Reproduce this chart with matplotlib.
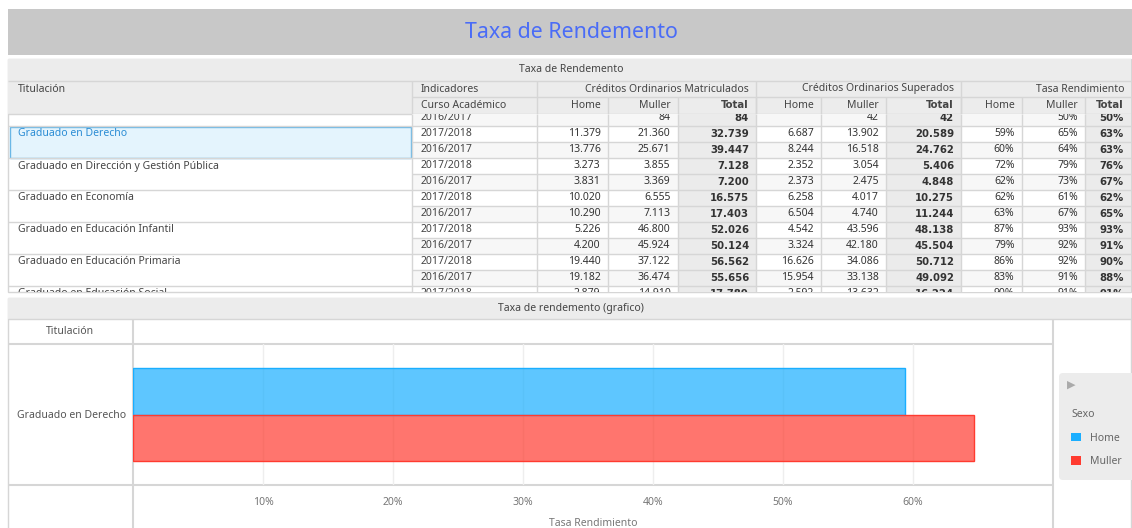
import matplotlib.pyplot as plt
from matplotlib.patches import Rectangle, FancyBboxPatch, Patch

plt.rcParams['font.family'] = ['Noto Sans', 'DejaVu Sans']

W, H = 1132, 528

# table data (first and last rows are cut by the scroll area)
titulacion = ['', 'Graduado en Derecho', 'Graduado en Dirección y Gestión Pública',
              'Graduado en Economía', 'Graduado en Educación Infantil',
              'Graduado en Educación Primaria', 'Graduado en Educación Social']
curso = ['2016/2017'] + ['2017/2018', '2016/2017'] * 5 + ['2017/2018']
mat_home = [None, 11379, 13776, 3273, 3831, 10020, 10290, 5226, 4200, 19440, 19182, 2879]
mat_muller = [84, 21360, 25671, 3855, 3369, 6555, 7113, 46800, 45924, 37122, 36474, 14910]
mat_total = [84, 32739, 39447, 7128, 7200, 16575, 17403, 52026, 50124, 56562, 55656, 17789]
sup_home = [None, 6687, 8244, 2352, 2373, 6258, 6504, 4542, 3324, 16626, 15954, 2592]
sup_muller = [42, 13902, 16518, 3054, 2475, 4017, 4740, 43596, 42180, 34086, 33138, 13632]
sup_total = [42, 20589, 24762, 5406, 4848, 10275, 11244, 48138, 45504, 50712, 49092, 16224]
tasa_home = [None, 59, 60, 72, 62, 62, 63, 87, 79, 86, 83, 90]
tasa_muller = [50, 65, 64, 79, 73, 61, 67, 93, 92, 92, 91, 91]
tasa_total = [50, 63, 63, 76, 67, 62, 65, 93, 91, 90, 88, 91]

groups = ['Créditos Ordinarios Matriculados', 'Créditos Ordinarios Superados', 'Tasa Rendimiento']
subcols = ['Home', 'Muller', 'Total']

# chart data
chart_titulacion = ['Graduado en Derecho']
sexo = ['Home', 'Muller']
tasa_sexo = [0.594, 0.647]
sexo_colors = ['#1aaeff', '#ff3b30']

LINE = '#d6d6d6'
HEAD = '#ececec'
TXT = '#444444'
FS = 7.5
BOLD = dict(family=['DejaVu Sans'], fontweight='bold', fontsize=7.3)

fig = plt.figure(figsize=(W / 100, H / 100), dpi=100)

# background axes in pixel units
bg = fig.add_axes([0, 0, 1, 1])
bg.set_xlim(0, W)
bg.set_ylim(H, 0)
bg.axis('off')

# banner
bg.add_patch(Rectangle((8, 9), W - 8, 46, facecolor='#c8c8c8', edgecolor='none'))
bg.text(571, 32, 'Taxa de Rendemento', fontsize=15.4, color='#4a6cf7', ha='center', va='center')

# table panel
col_x = [8, 412, 537, 607.5, 677.5, 756, 821, 886, 961, 1021.5, 1085, 1131]
bg.add_patch(Rectangle((8, 58.5), 1123, 233, facecolor='white', edgecolor=LINE, lw=1))
bg.add_patch(Rectangle((8, 58.5), 1123, 55, facecolor=HEAD, edgecolor='none'))
bg.text(571, 70, 'Taxa de Rendemento', fontsize=FS, color=TXT, ha='center', va='center')
bg.hlines(81, 8, 1131, color=LINE, lw=1)
bg.hlines(97, 412, 1131, color=LINE, lw=1)
bg.hlines(113.5, 8, 1131, color=LINE, lw=1)
for x in [412, 537, 756, 961]:
    bg.vlines(x, 81, 113.5, color=LINE, lw=1)
for x in col_x[3:-1]:
    bg.vlines(x, 97, 113.5, color=LINE, lw=1)
bg.text(18, 89, 'Titulación', fontsize=FS, color=TXT, va='center')
bg.text(421, 89, 'Indicadores', fontsize=FS, color=TXT, va='center')
bg.text(421, 105, 'Curso Académico', fontsize=FS, color=TXT, va='center')
for g, name in enumerate(groups):
    bg.text(col_x[2 + 3 * g + 3] - 7, 89, name, fontsize=FS, color=TXT, ha='right', va='center')
    for k, sub in enumerate(subcols):
        kw = BOLD if sub == 'Total' else dict(fontsize=FS)
        bg.text(col_x[2 + 3 * g + k + 1] - 7, 105, sub, color=TXT, ha='right', va='center', **kw)

# table body, clipped to the scroll area
top, bot = 113.5, 291.5
body = fig.add_axes([0, (H - bot) / H, 1, (bot - top) / H])
body.set_xlim(0, W)
body.set_ylim(bot, top)
body.axis('off')
body.patch.set_alpha(0)

values = [mat_home, mat_muller, mat_total, sup_home, sup_muller, sup_total,
          tasa_home, tasa_muller, tasa_total]


def fmt(v, pct):
    if v is None:
        return ''
    if pct:
        return f'{v}%'
    return f'{v:,}'.replace(',', '.')


row_h = 16
for i, c in enumerate(curso):
    y0 = 110 + row_h * i
    shade = '#f7f7f7' if c == '2016/2017' else 'white'
    body.add_patch(Rectangle((412, y0), 125, row_h, facecolor=shade, edgecolor='none', clip_on=True))
    body.text(421, y0 + 8, c, fontsize=FS, color=TXT, va='center', clip_on=True)
    for j, col in enumerate(values):
        xl, xr = col_x[j + 2], col_x[j + 3]
        total = j % 3 == 2
        face = '#ebebeb' if total else shade
        body.add_patch(Rectangle((xl, y0), xr - xl, row_h, facecolor=face, edgecolor='none', clip_on=True))
        kw = BOLD if total else dict(fontsize=FS)
        body.text(xr - 7, y0 + 8, fmt(col[i], j >= 6), color='#333333', ha='right', va='center',
                  clip_on=True, **kw)
    body.hlines(y0 + row_h, 412, 1131, color=LINE, lw=1)

for x in col_x[1:-1]:
    body.vlines(x, top, bot, color=LINE, lw=1)

# titulacion cells span two rows
for g, name in enumerate(titulacion):
    y0 = 94 + 32 * g
    body.hlines(y0 + 32, 8, 412, color=LINE, lw=1)
    if g == 1:
        body.add_patch(Rectangle((10, y0 + 0.5), 401, 31, facecolor='#e4f4fd', edgecolor='#6ab7e6', lw=1))
        body.text(18, y0 + 8, name, fontsize=FS, color='#2a8cd4', va='center', clip_on=True)
    else:
        body.text(18, y0 + 8, name, fontsize=FS, color=TXT, va='center', clip_on=True)

# chart panel
bg.add_patch(Rectangle((8, 298), 1123, 240, facecolor='white', edgecolor=LINE, lw=1))
bg.add_patch(Rectangle((8, 298), 1123, 21, facecolor=HEAD, edgecolor='none'))
bg.hlines(319, 8, 1131, color=LINE, lw=1)
bg.text(571, 309, 'Taxa de rendemento (grafico)', fontsize=FS, color=TXT, ha='center', va='center')
bg.hlines([344, 485], 8, 1053, color=LINE, lw=1.5)
bg.vlines([133, 1053], 319, H, color=LINE, lw=1.5)
bg.text(70, 332, 'Titulación', fontsize=FS, color='#555555', ha='center', va='center')

# legend box
bg.add_patch(FancyBboxPatch((1059, 373), 90, 107, boxstyle='round,pad=0,rounding_size=4',
                            facecolor=HEAD, edgecolor='none'))
bg.text(1067, 385, '▶', fontsize=8, color='#aaaaaa', va='center', family=['DejaVu Sans'])

# bar chart
ax = fig.add_axes([133 / W, (H - 485) / H, (1053 - 133) / W, (485 - 344) / H])
ax.patch.set_alpha(0)
offsets = [-0.165, 0.168]
for k, s in enumerate(sexo):
    ax.barh([p + offsets[k] for p in range(len(chart_titulacion))], [tasa_sexo[k]], height=0.33,
            color=sexo_colors[k], alpha=0.7, edgecolor='none', zorder=2)
    ax.barh([p + offsets[k] for p in range(len(chart_titulacion))], [tasa_sexo[k]], height=0.33,
            facecolor='none', edgecolor=sexo_colors[k], lw=1, zorder=3)
ax.set_ylim(0.5, -0.5)
ax.set_xlim(0, 0.708)
ax.set_yticks(range(len(chart_titulacion)), chart_titulacion)
xt = [0.1, 0.2, 0.3, 0.4, 0.5, 0.6]
ax.set_xticks(xt, [f'{int(round(t * 100))}%' for t in xt])
ax.tick_params(length=0, labelsize=FS, labelcolor='#777777')
ax.tick_params(axis='x', pad=8.5)
ax.tick_params(axis='y', pad=5, labelcolor='#555555')
ax.grid(axis='x', color='#eeeeee', lw=1, zorder=0)
for sp in ax.spines.values():
    sp.set_visible(False)
ax.set_xlabel('Tasa Rendimiento', fontsize=FS, color='#777777', labelpad=7)

handles = [Patch(facecolor=c, edgecolor='none') for c in sexo_colors]
fig.legend(handles, sexo, title='Sexo', loc='upper left', bbox_to_anchor=(1071 / W, 1 - 409 / H),
           frameon=False, fontsize=FS, title_fontsize=FS, handlelength=0.95, handleheight=0.95,
           handletextpad=0.9, labelspacing=1.2, borderpad=0, borderaxespad=0, alignment='left',
           labelcolor='#666666')
fig.legends[0].get_title().set_color('#666666')

plt.savefig('out.png', dpi=100)
